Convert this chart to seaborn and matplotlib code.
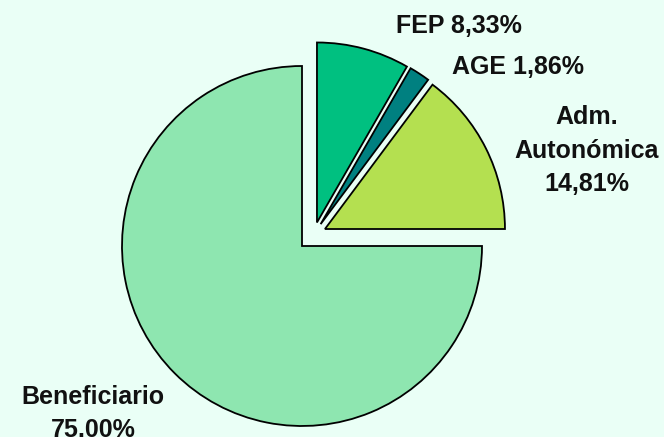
import matplotlib
matplotlib.use("Agg")
import matplotlib.pyplot as plt
import seaborn as sns

# data (clockwise from the top)
sources = ["FEP", "AGE", "Adm.\nAutonómica", "Beneficiario"]
shares = [8.33, 1.86, 14.81, 75.00]
share_text = ["8,33%", "1,86%", "14,81%", "75.00%"]
slice_colors = ["#00C080", "#008080", "#B4E050", "#8EE6B0"]

sns.set_style("white")
plt.rcParams["font.family"] = ["Liberation Sans", "DejaVu Sans"]

bg = "#EAFFF6"
fig = plt.figure(figsize=(6.64, 4.37), dpi=100, facecolor=bg)
ax = fig.add_axes([0, 0, 1, 1])
ax.set_facecolor(bg)

edge = dict(edgecolor="black", linewidth=1.3)

# big slice stays in place
big, _ = ax.pie(shares, colors=slice_colors, startangle=90, counterclock=False,
                wedgeprops=edge)
for w in big[:3]:
    w.set_visible(False)

# the three small slices pulled out as a group
small, _ = ax.pie(shares, colors=slice_colors, startangle=90, counterclock=False,
                  center=(0.065, 0.063), explode=[0.07, 0.07, 0.07, 0],
                  wedgeprops=edge)
small[3].set_visible(False)

# labels (positions in data units, radius = 1)
label_pos = [(0.87, 1.225), (1.20, 0.995), (1.58, 0.53), (-1.16, -0.93)]
label_text = [
    f"{sources[0]} {share_text[0]}",
    f"{sources[1]} {share_text[1]}",
    f"{sources[2]}\n{share_text[2]}",
    f"{sources[3]}\n{share_text[3]}",
]
for (x, y), t in zip(label_pos, label_text):
    ax.text(x, y, t, ha="center", va="center", fontsize=18, fontweight="bold",
            color="#111111", linespacing=1.5)

ax.set_xlim(-302 / 180, 362 / 180)
ax.set_ylim(-(437 - 246) / 180, 246 / 180)
ax.set_aspect("equal")
ax.axis("off")

fig.savefig("out.png", dpi=100, facecolor=bg)
